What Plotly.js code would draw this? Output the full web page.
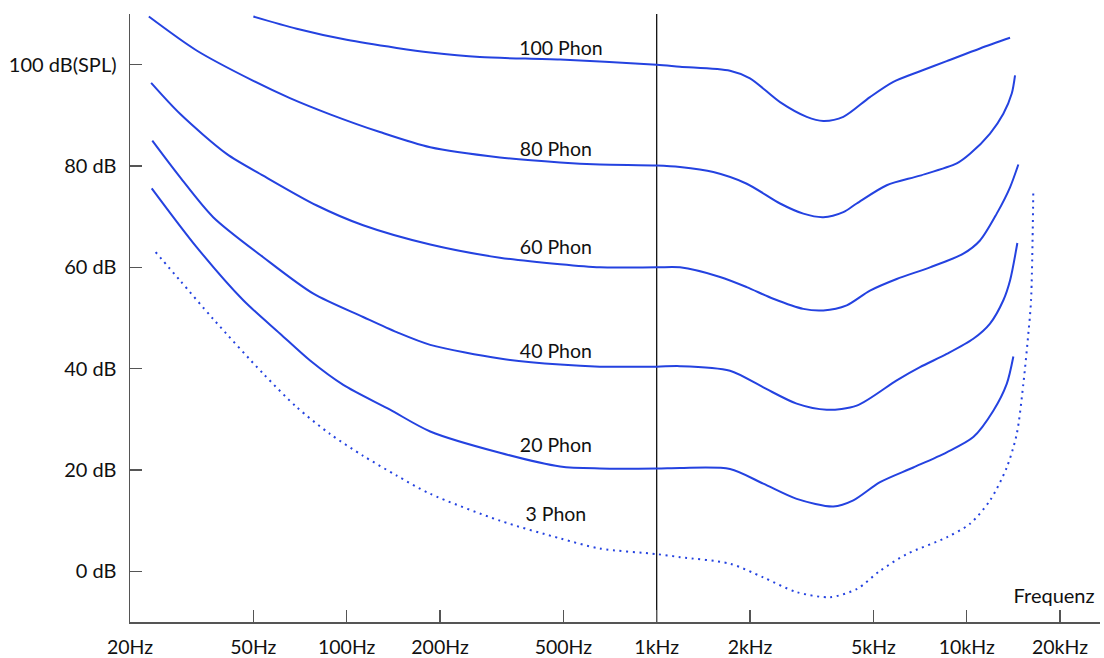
<!DOCTYPE html>
<html>
<head>
<meta charset="utf-8">
<script src="https://cdn.plot.ly/plotly-3.0.1.min.js"></script>
<style>html,body{margin:0;padding:0;background:#fff;}#chart{width:1104px;height:658px;}</style>
</head>
<body>
<div id="chart"></div>
<script>
// Frequencies (Hz) and levels (dB SPL)
const f100 = [50, 69, 100, 145, 186, 269, 488, 1000, 1189, 1724, 2000, 2500, 3048, 3448, 4000, 4876, 5800, 7070, 8620, 11040, 13800];
const db100 = [109.5, 107.1, 104.9, 103.3, 102.4, 101.5, 101.0, 100.0, 99.6, 98.8, 97.3, 92.6, 89.7, 88.9, 89.7, 93.6, 96.6, 98.7, 100.7, 103.2, 105.3];

const f80 = [23.0, 32.8, 50, 65.6, 88.4, 128, 186, 312, 488, 656, 1000, 1189, 1523, 1952, 2500, 2972, 3448, 4000, 4418, 5522, 7070, 9288, 10250, 11894, 13130, 13976, 14322];
const db80 = [109.5, 102.8, 96.8, 93.4, 90.2, 86.7, 83.7, 81.7, 80.7, 80.3, 80.1, 79.8, 78.8, 76.5, 72.6, 70.6, 69.9, 70.9, 72.6, 76.2, 78.1, 80.5, 82.4, 86.4, 90.3, 94.3, 97.9];

const f60 = [23.4, 29, 41, 53.8, 80.1, 113, 186, 312, 488, 656, 1000, 1189, 1601, 1952, 2378, 2972, 3448, 4102, 4876, 5948, 7614, 9754, 11040, 12500, 13800, 14678];
const db60 = [96.4, 90.3, 82.4, 78.1, 72.2, 68.3, 64.5, 61.9, 60.6, 60.0, 60.0, 60.0, 58.1, 56.1, 53.8, 51.8, 51.5, 52.5, 55.4, 57.7, 60.0, 62.7, 65.3, 70.6, 75.8, 80.3];

const f40 = [23.6, 29, 37.1, 53.8, 78.1, 113, 145, 186, 312, 488, 656, 1000, 1189, 1724, 2208, 2829, 3536, 4418, 5948, 7070, 8620, 10504, 11894, 13130, 13800, 14570];
const db40 = [85.0, 77.8, 69.9, 62.0, 54.8, 50.2, 47.2, 44.7, 42.0, 40.8, 40.4, 40.4, 40.5, 39.6, 36.3, 33.1, 31.9, 32.7, 37.7, 40.3, 42.9, 45.9, 48.9, 53.5, 57.4, 64.8];

const f20 = [23.5, 32.8, 46.4, 61, 76.2, 97.5, 138, 186, 312, 488, 656, 1000, 1189, 1724, 2208, 2829, 3714, 4308, 5254, 6728, 8620, 10504, 12188, 13466, 14144];
const db20 = [75.6, 64.0, 53.5, 46.9, 41.6, 36.8, 31.9, 27.6, 23.4, 20.7, 20.3, 20.3, 20.4, 20.2, 17.3, 14.3, 12.8, 14.0, 17.6, 20.5, 23.5, 26.5, 31.7, 37.0, 42.4];

const f3 = [24.2, 29, 37.1, 53.8, 69, 88.4, 113, 145, 186, 312, 488, 656, 1000, 1189, 1724, 2208, 2829, 3624, 4418, 5254, 6406, 8620, 10250, 11894, 13466, 14504, 15232, 15808, 16130, 16406];
const db3 = [63.0, 57.4, 49.8, 39.0, 32.4, 27.1, 22.8, 18.9, 15.3, 10.0, 6.5, 4.5, 3.4, 2.8, 1.5, -1.2, -4.1, -5.1, -3.5, 0.1, 3.4, 6.7, 9.4, 14.0, 20.5, 27.1, 37.0, 46.9, 53.5, 75.5];

const curveLabels = ['100 Phon', '80 Phon', '60 Phon', '40 Phon', '20 Phon', '3 Phon'];
const labelFreq = [491, 473, 473, 473, 473, 473];
const labelDb = [102.9, 82.9, 63.5, 43.0, 24.6, 10.8];

const xTickVals = [20, 50, 100, 200, 500, 1000, 2000, 5000, 10000, 20000];
const xTickText = ['20Hz', '50Hz', '100Hz', '200Hz', '500Hz', '1kHz', '2kHz', '5kHz', '10kHz', '20kHz'];
const yTickVals = [0, 20, 40, 60, 80, 100];
const yTickText = ['0 dB', '20 dB', '40 dB', '60 dB', '80 dB', '100 dB(SPL)'];

const refFreq = [1000, 1000];
const refDb = [-10, 110];

const BLUE = '#2442e0';
const FONT = 'Lato, "Open Sans", sans-serif';

function curve(x, y, dash) {
  return {
    x: x, y: y, type: 'scatter', mode: 'lines',
    line: {color: BLUE, width: 2, shape: 'spline', smoothing: 0.8, dash: dash || 'solid'},
    hoverinfo: 'skip', showlegend: false
  };
}

const data = [
  {x: refFreq, y: refDb, type: 'scatter', mode: 'lines', line: {color: '#111', width: 1.3}, showlegend: false, hoverinfo: 'skip'},
  curve(f100, db100),
  curve(f80, db80),
  curve(f60, db60),
  curve(f40, db40),
  curve(f20, db20),
  curve(f3, db3, '2px,4.6px'),
  {x: labelFreq, y: labelDb, text: curveLabels, type: 'scatter', mode: 'text',
   textposition: 'middle center', textfont: {family: FONT, size: 19.5, color: '#111'},
   showlegend: false, hoverinfo: 'skip'},
  {x: [19140], y: [-5.2], text: ['Frequenz'], type: 'scatter', mode: 'text',
   textposition: 'middle center', textfont: {family: FONT, size: 20, color: '#111'},
   showlegend: false, hoverinfo: 'skip'}
];

const layout = {
  width: 1104, height: 658,
  margin: {l: 130, r: 4, t: 14, b: 36, pad: 0},
  paper_bgcolor: '#fff', plot_bgcolor: '#fff',
  font: {family: FONT, size: 19.5, color: '#111'},
  showlegend: false,
  xaxis: {
    type: 'log', range: [Math.log10(20), Math.log10(20) + 970 / 310],
    tickmode: 'array', tickvals: xTickVals, ticktext: xTickText,
    ticks: 'inside', ticklen: 12, tickwidth: 1.5, tickcolor: '#555',
    showline: true, linecolor: '#555', linewidth: 1.5,
    showgrid: false, zeroline: false, fixedrange: true,
    ticklabelstandoff: 7,
    tickfont: {family: FONT, size: 19.5, color: '#111'}
  },
  yaxis: {
    range: [-10, 110],
    tickmode: 'array', tickvals: yTickVals, ticktext: yTickText,
    ticks: 'inside', ticklen: 12, tickwidth: 1.5, tickcolor: '#555',
    showline: true, linecolor: '#555', linewidth: 1.5,
    showgrid: false, zeroline: false, fixedrange: true,
    ticklabelstandoff: 8,
    tickfont: {family: FONT, size: 20, color: '#111'}
  }
};

Plotly.newPlot('chart', data, layout, {staticPlot: true, displayModeBar: false});
</script>
</body>
</html>
